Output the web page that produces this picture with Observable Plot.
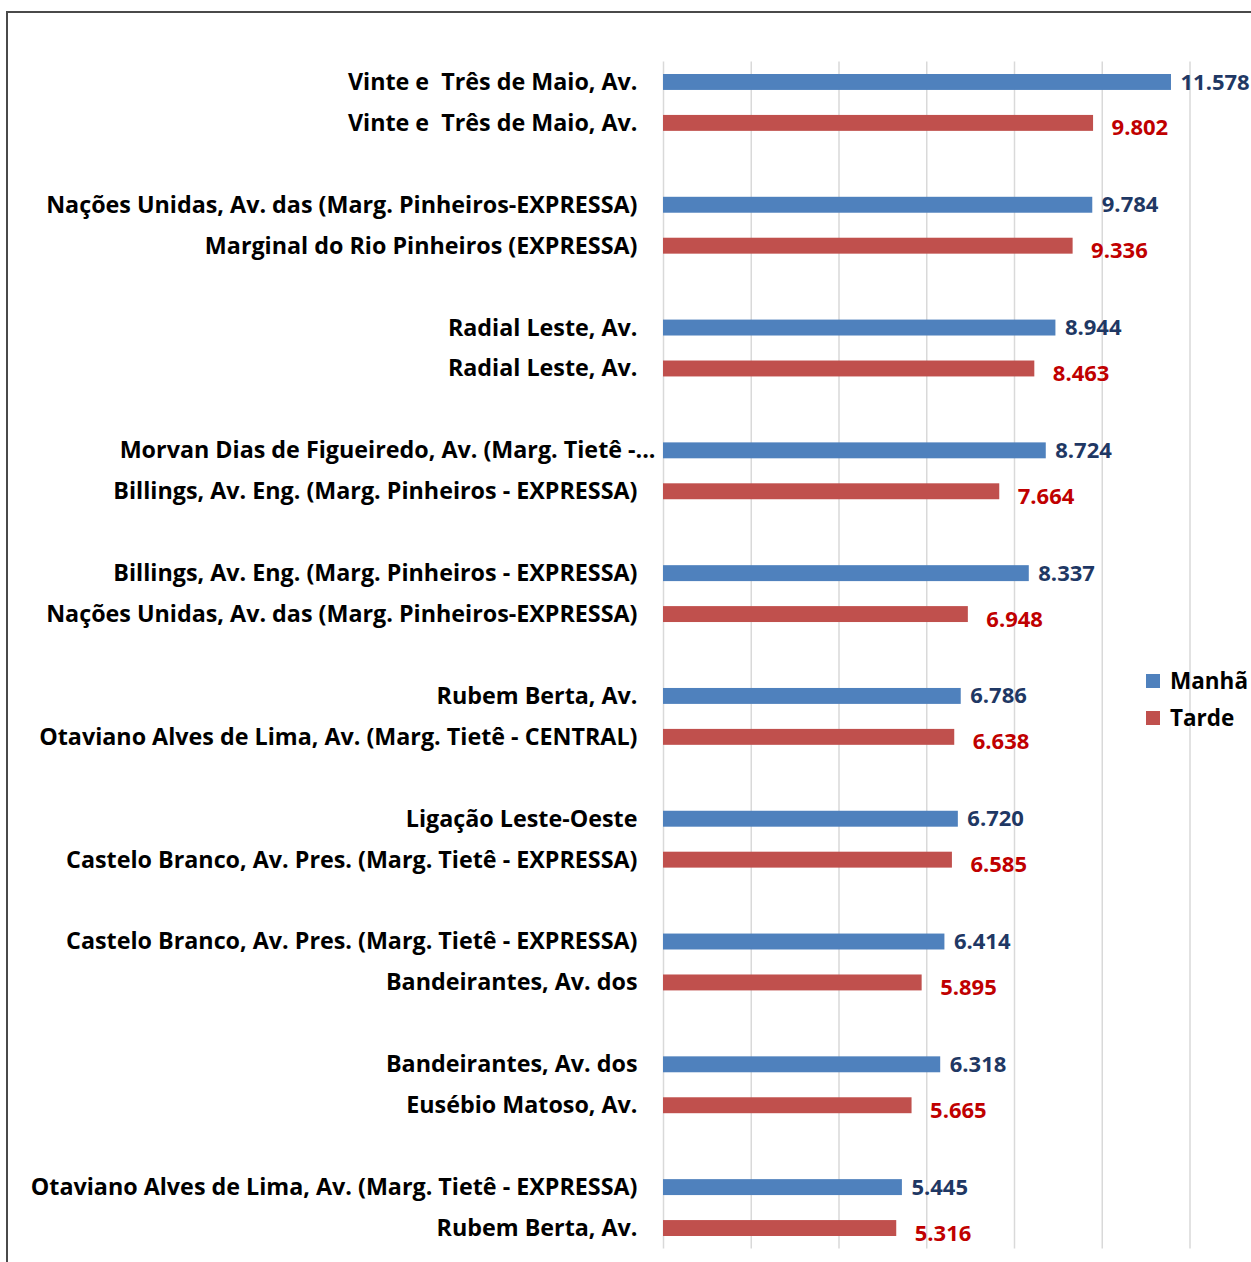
<!DOCTYPE html>
<html><head><meta charset="utf-8">
<script src="https://cdn.jsdelivr.net/npm/d3@7"></script>
<script src="https://cdn.jsdelivr.net/npm/@observablehq/plot@0.6"></script>
<style>
html,body{margin:0;padding:0;background:#fff;overflow:hidden;width:1251px;height:1262px;font-family:"Open Sans",Lato,sans-serif}
#frame{position:absolute;left:6px;top:11px;width:1400px;height:1400px;border-top:2px solid #4a4a4a;border-left:2px solid #4a4a4a;box-sizing:border-box}
#chart{position:absolute;left:0;top:0}
#chart svg text{white-space:pre}
.leg{position:absolute;left:1146px;font-weight:bold;font-size:22.5px;color:#000;display:flex;align-items:center;white-space:nowrap}
.leg span.sw{display:inline-block;width:14px;height:14px;margin-right:10px}
</style></head>
<body>
<div id="frame"></div>
<div id="chart"></div>
<div class="leg" style="top:665px"><span class="sw" style="background:#4F81BD"></span>Manhã</div>
<div class="leg" style="top:702px"><span class="sw" style="background:#C0504D"></span>Tarde</div>
<script>
const series = ["Manhã", "Tarde"];
const manhaLabels = [
  "Vinte e  Três de Maio, Av.",
  "Nações Unidas, Av. das (Marg. Pinheiros-EXPRESSA)",
  "Radial Leste, Av.",
  "Morvan Dias de Figueiredo, Av. (Marg. Tietê -...",
  "Billings, Av. Eng. (Marg. Pinheiros - EXPRESSA)",
  "Rubem Berta, Av.",
  "Ligação Leste-Oeste",
  "Castelo Branco, Av. Pres. (Marg. Tietê - EXPRESSA)",
  "Bandeirantes, Av. dos",
  "Otaviano Alves de Lima, Av. (Marg. Tietê - EXPRESSA)"
];
const manhaValues = [11578, 9784, 8944, 8724, 8337, 6786, 6720, 6414, 6318, 5445];
const tardeLabels = [
  "Vinte e  Três de Maio, Av.",
  "Marginal do Rio Pinheiros (EXPRESSA)",
  "Radial Leste, Av.",
  "Billings, Av. Eng. (Marg. Pinheiros - EXPRESSA)",
  "Nações Unidas, Av. das (Marg. Pinheiros-EXPRESSA)",
  "Otaviano Alves de Lima, Av. (Marg. Tietê - CENTRAL)",
  "Castelo Branco, Av. Pres. (Marg. Tietê - EXPRESSA)",
  "Bandeirantes, Av. dos",
  "Eusébio Matoso, Av.",
  "Rubem Berta, Av."
];
const tardeValues = [9802, 9336, 8463, 7664, 6948, 6638, 6585, 5895, 5665, 5316];
const gridTicks = [0, 2000, 4000, 6000, 8000, 10000, 12000];

const fmt = d3.formatLocale({decimal: ",", thousands: ".", grouping: [3], currency: ["R$", ""]}).format(",d");

const rows = [];
const domain = [];
const labelMap = new Map();
manhaValues.forEach((v, i) => {
  rows.push({key: "m" + i, value: v, serie: series[0]});
  rows.push({key: "t" + i, value: tardeValues[i], serie: series[1]});
  labelMap.set("m" + i, manhaLabels[i]);
  labelMap.set("t" + i, tardeLabels[i]);
  domain.push("m" + i, "t" + i);
  if (i < manhaValues.length - 1) domain.push("g" + i);
});
// the truncated label (ending with "...") overflows toward the bars in the original
const truncatedKeys = [...labelMap].filter(([, l]) => l.endsWith("...")).map(([k]) => k);
const tickKeys = domain.filter(k => k[0] !== "g" && !truncatedKeys.includes(k));

const axisStyle = {tickFormat: k => labelMap.get(k), tickSize: 0, fontSize: 23.3, fontWeight: "bold", fill: "#000", label: null};

const chart = Plot.plot({
  width: 1251,
  height: 1262,
  marginLeft: 663,
  marginRight: 61.5,
  marginTop: 61.5,
  marginBottom: 13.5,
  style: {fontFamily: "'Open Sans', Lato, sans-serif", color: "#000", background: "transparent"},
  x: {domain: [0, 12000], axis: null},
  y: {domain, type: "band", padding: 0, round: false, axis: null},
  color: {domain: series, range: ["#4F81BD", "#C0504D"]},
  marks: [
    Plot.ruleX(gridTicks, {stroke: "#d9d9d9", strokeWidth: 1.5}),
    Plot.barX(rows, {x: "value", y: "key", fill: "serie", insetTop: 12.5, insetBottom: 12.5}),
    Plot.text(rows.filter(d => d.serie === series[0]), {
      x: "value", y: "key", text: d => fmt(d.value), dx: 9, textAnchor: "start",
      fill: "#1F3864", fontWeight: "bold", fontSize: 22
    }),
    Plot.text(rows.filter(d => d.serie === series[1]), {
      x: "value", y: "key", text: d => fmt(d.value), dx: 18, dy: 5, textAnchor: "start",
      fill: "#C00000", fontWeight: "bold", fontSize: 22
    }),
    Plot.axisY({...axisStyle, ticks: tickKeys, tickPadding: 26}),
    Plot.axisY({...axisStyle, ticks: truncatedKeys, tickPadding: 8})
  ]
});
document.getElementById("chart").appendChild(chart);
</script>
</body></html>
